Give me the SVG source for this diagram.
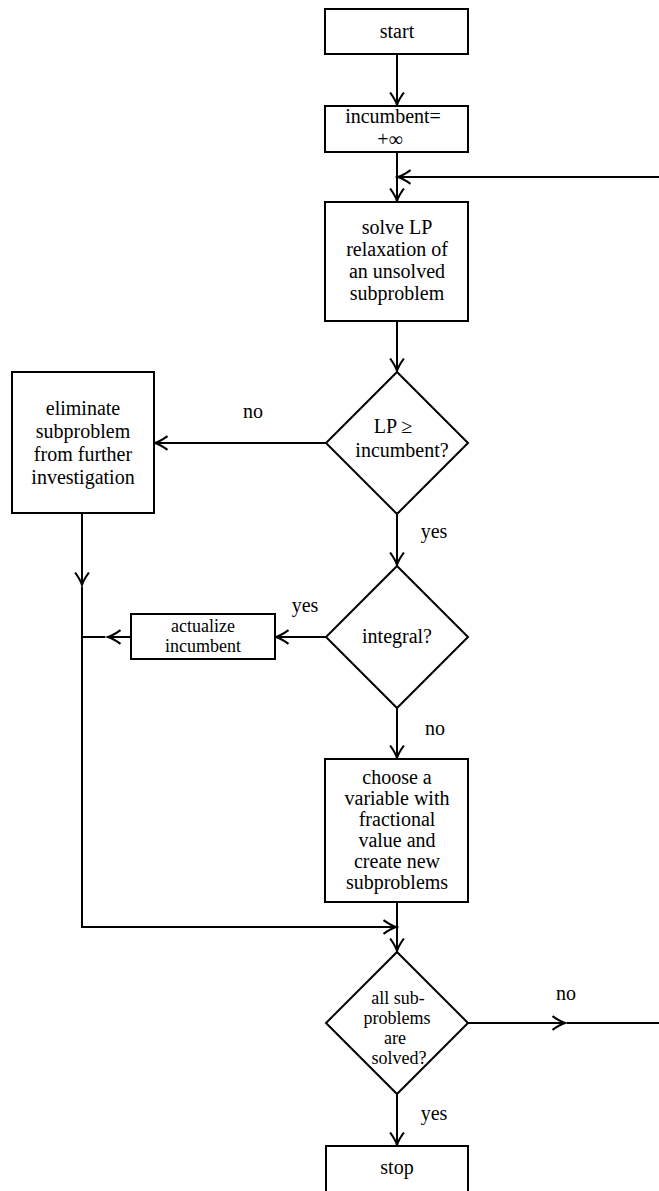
<svg xmlns="http://www.w3.org/2000/svg" width="659" height="1191" viewBox="0 0 659 1191" font-family="Liberation Serif, DejaVu Serif, serif">
<style>
.n{fill:#fff;stroke:#000;stroke-width:2}
text{font-family:"Liberation Serif","DejaVu Serif",serif;font-size:20px;fill:#000;text-anchor:middle}
.s{font-size:18px}
.c{fill:none;stroke:#000;stroke-width:2}
.a{marker-end:url(#ar)}
</style>
<defs>
<marker id="ar" markerUnits="userSpaceOnUse" markerWidth="20" markerHeight="20" viewBox="-12 -8 14 16" refX="0" refY="0" orient="auto">
<path d="M-10,-5.5 Q-4,-1.2 0,0 Q-4,1.2 -10,5.5" fill="none" stroke="#000" stroke-width="1.7"/>
</marker>
</defs>
<rect width="659" height="1191" fill="#fff"/>
<g id="connectors">
<path class="c a" d="M397,54 V105"/>
<path class="c a" d="M397,152 V201"/>
<path class="c a" d="M397,321 V371"/>
<path class="c a" d="M326,443 H155"/>
<path class="c a" d="M397,514 V565"/>
<path class="c a" d="M326,637 H276"/>
<path class="c a" d="M131,637 H108"/>
<path class="c" d="M105,637 H82"/>
<path class="c a" d="M82,513 V585"/>
<path class="c" d="M82,587 V927"/>
<path class="c a" d="M81,927 H396"/>
<path class="c a" d="M397,708 V758"/>
<path class="c a" d="M397,902 V951"/>
<path class="c a" d="M397,1094 V1145"/>
<path class="c a" d="M468,1023 H565"/>
<path class="c" d="M567,1023 H667 V647"/>
<path class="c a" d="M667,660 V645"/>
<path class="c a" d="M667,643 V177 H398"/>
</g>
<g id="start">
<rect class="n" x="325" y="9" width="143" height="45"/>
<text x="397" y="38">start</text>
</g>
<g id="init">
<rect class="n" x="325" y="106" width="143" height="46"/>
<text x="393" y="123">incumbent=</text>
<text x="390" y="146">+∞</text>
</g>
<g id="solve">
<rect class="n" x="325" y="202" width="143" height="119"/>
<text x="397" y="234">solve LP</text>
<text x="397" y="256">relaxation of</text>
<text x="397" y="278">an unsolved</text>
<text x="397" y="300">subproblem</text>
</g>
<g id="lpcheck">
<polygon class="n" points="397,372 468,443 397,514 326,443"/>
<text x="393" y="433">LP ≥</text>
<text x="402" y="457">incumbent?</text>
</g>
<g id="eliminate">
<rect class="n" x="12" y="372" width="142" height="141"/>
<text x="83" y="415">eliminate</text>
<text x="83" y="438">subproblem</text>
<text x="83" y="461">from further</text>
<text x="83" y="484">investigation</text>
</g>
<g id="integral">
<polygon class="n" points="397,566 468,637 397,708 326,637"/>
<text x="397" y="643">integral?</text>
</g>
<g id="actualize">
<rect class="n" x="131" y="614" width="144" height="45"/>
<text class="s" x="203" y="632">actualize</text>
<text class="s" x="203" y="652">incumbent</text>
</g>
<g id="choose">
<rect class="n" x="325" y="759" width="143" height="143"/>
<text x="397" y="784">choose a</text>
<text x="397" y="805">variable with</text>
<text x="397" y="826">fractional</text>
<text x="397" y="847">value and</text>
<text x="397" y="868">create new</text>
<text x="397" y="889">subproblems</text>
</g>
<g id="allsolved">
<polygon class="n" points="397,952 468,1023 397,1094 326,1023"/>
<text class="s" x="398" y="1004">all sub-</text>
<text class="s" x="397" y="1024">problems</text>
<text class="s" x="395" y="1044">are</text>
<text class="s" x="399" y="1064">solved?</text>
</g>
<g id="stop">
<rect class="n" x="326" y="1146" width="142" height="47"/>
<text x="397" y="1174">stop</text>
</g>
<g id="labels">
<text x="253" y="418">no</text>
<text x="434" y="538">yes</text>
<text x="305" y="612">yes</text>
<text x="435" y="735">no</text>
<text x="566" y="1000">no</text>
<text x="434" y="1120">yes</text>
</g>
</svg>
